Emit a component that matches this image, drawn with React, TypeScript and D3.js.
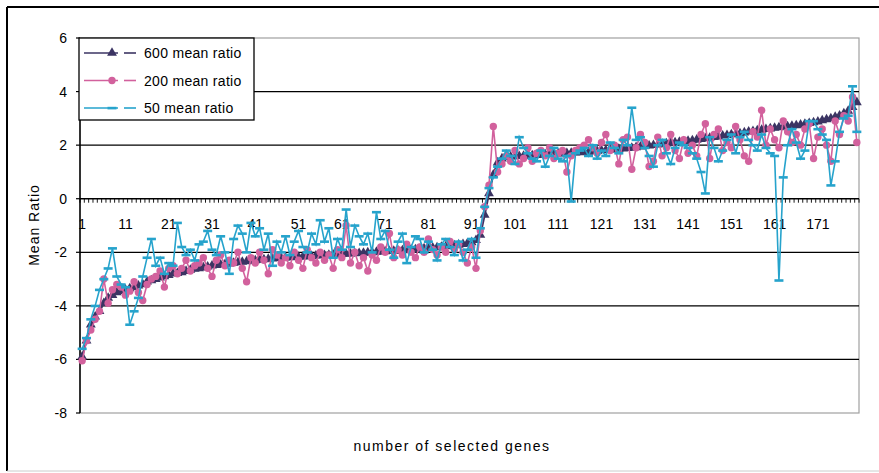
import React from "react";
import * as d3 from "d3";

const yTicks = [-8, -6, -4, -2, 0, 2, 4, 6];
const xLabelEvery = 10;

const seriesNames = ["600 mean ratio", "200 mean ratio", "50 mean ratio"];

const ratio600 = [
  -5.9, -5.3, -4.7, -4.4, -4.2, -3.9, -3.7, -3.6, -3.5, -3.45,
  -3.4, -3.35, -3.3, -3.25, -3.2, -3.1, -3.05, -3.0, -2.95, -2.9,
  -2.85, -2.8, -2.78, -2.75, -2.7, -2.66, -2.62, -2.6, -2.57, -2.54,
  -2.5, -2.48, -2.46, -2.44, -2.42, -2.4, -2.38, -2.36, -2.34, -2.32,
  -2.3, -2.28, -2.27, -2.25, -2.24, -2.22, -2.21, -2.2, -2.19, -2.18,
  -2.17, -2.16, -2.15, -2.14, -2.13, -2.12, -2.11, -2.1, -2.09, -2.08,
  -2.07, -2.06, -2.05, -2.04, -2.03, -2.02, -2.01, -2.0, -1.99, -1.98,
  -1.97, -1.96, -1.95, -1.94, -1.93, -1.92, -1.9, -1.89, -1.88, -1.86,
  -1.85, -1.83, -1.82, -1.8, -1.78, -1.76, -1.74, -1.72, -1.7, -1.67,
  -1.63, -1.55, -1.35, -0.6, 0.2, 0.9, 1.35, 1.5, 1.55, 1.57,
  1.58, 1.59, 1.6, 1.61, 1.62, 1.63, 1.64, 1.65, 1.66, 1.67,
  1.68, 1.69, 1.7, 1.71, 1.72, 1.73, 1.74, 1.75, 1.77, 1.78,
  1.8, 1.81, 1.83, 1.84, 1.86, 1.87, 1.89, 1.9, 1.92, 1.94,
  1.96, 1.98, 2.0, 2.02, 2.04, 2.06, 2.08, 2.1, 2.12, 2.14,
  2.16, 2.18, 2.2, 2.22, 2.25, 2.27, 2.3, 2.32, 2.35, 2.37,
  2.4, 2.42, 2.44, 2.47, 2.5, 2.52, 2.55, 2.57, 2.6, 2.62,
  2.64, 2.66, 2.68, 2.7, 2.72, 2.74, 2.76, 2.79, 2.82, 2.85,
  2.88, 2.92, 2.96, 3.0, 3.05, 3.1, 3.18, 3.28, 3.42, 3.6,
];

const ratio200 = [
  -6.05, -5.3, -4.9, -4.5, -4.2, -3.0, -3.9, -3.4, -3.2, -3.3,
  -3.6, -3.45, -3.1, -3.5, -3.8, -3.2, -3.0, -2.9, -2.7, -3.3,
  -2.6, -2.5, -2.8, -2.6, -2.3, -2.7, -2.5, -2.4, -2.2, -2.6,
  -2.9, -2.3, -2.1, -2.5, -2.3, -2.4, -2.0, -2.6, -3.1, -2.2,
  -2.4, -2.0, -2.3, -2.8, -1.9, -2.1, -2.4, -2.2, -2.5, -2.0,
  -2.3, -2.6, -1.9, -2.2, -2.4, -2.0, -2.3, -2.1, -2.6, -1.9,
  -2.2, -1.0, -2.4, -2.0, -2.5, -2.2, -2.7, -2.1, -2.3, -1.8,
  -2.0, -1.3, -2.2, -1.9, -2.1, -1.7, -2.0, -2.2, -1.8, -2.0,
  -1.5, -1.9, -2.1, -1.8, -2.0, -1.6, -1.9, -1.7, -2.0, -2.4,
  -1.8, -2.6, -1.2, -0.3, 0.5, 2.7, 1.0, 1.3, 1.6, 1.4,
  1.8, 1.3, 1.5, 1.9, 1.4, 1.7, 1.8, 1.6, 1.9, 1.5,
  1.7, 1.8, 1.0, 1.6, 1.8, 1.9, 2.0, 2.2, 1.9, 1.7,
  2.1, 2.4, 1.8, 2.0, 1.3, 2.2, 2.3, 1.1, 1.9, 2.4,
  2.1, 1.2, 1.4, 2.3, 1.6, 1.9, 2.4, 1.8, 1.5, 2.2,
  1.7, 2.0, 1.6, 2.4, 2.8, 1.5, 2.4, 2.6, 1.8, 2.1,
  1.9, 2.7, 2.2, 1.6, 1.4, 2.5, 2.3, 3.3, 2.0, 2.6,
  2.2, 1.9, 2.9, 2.5, 2.1, 2.4, 2.0, 2.6, 2.8, 1.5,
  2.3, 2.6, 2.0, 1.4, 2.9, 2.4, 3.1, 2.9, 3.8, 2.1,
];

const ratio50 = [
  -5.6, -5.2, -4.5, -4.0, -3.4, -3.0, -2.6, -1.85, -2.9, -3.2,
  -3.3, -4.7, -4.2, -3.7, -2.9, -2.2, -1.5, -2.5, -2.2, -2.8,
  -2.4, -2.5, -0.9, -1.8, -2.1, -1.9, -2.3, -1.7, -1.6, -1.2,
  -1.9, -2.1, -1.4, -2.0, -2.8, -1.5, -1.0, -1.3, -2.0, -0.9,
  -1.4, -1.1, -1.9, -1.3, -2.5, -1.6, -2.0, -1.4, -2.1, -1.6,
  -1.2, -1.8, -2.0, -1.3, -1.7, -0.8, -1.6, -1.1, -2.2, -1.5,
  -1.9, -0.4, -1.8, -1.0, -1.4, -1.7, -1.3, -2.0, -0.5, -1.5,
  -1.2, -1.9, -2.2, -1.6, -1.3, -2.4, -1.8, -1.4, -1.5, -2.0,
  -1.6, -1.9, -2.3, -1.7, -1.5, -1.8, -2.1, -1.6, -2.3, -1.9,
  -1.5, -2.2, -1.1, -0.3, 0.4, 0.8, 1.2, 1.5, 1.8, 1.6,
  1.3, 2.3, 1.9, 1.7, 1.5, 1.4, 1.8, 1.2, 1.6, 1.9,
  1.5, 1.4, 1.6, -0.1, 1.7, 1.8, 1.9, 1.6, 2.0, 1.5,
  1.8, 1.6, 2.1, 1.9, 1.7, 2.2, 2.0, 3.4, 2.2, 2.3,
  1.9, 1.6, 1.2, 2.0, 2.2, 1.7, 1.3, 1.9, 2.1, 2.0,
  1.9, 1.7, 1.5, 1.0, 0.2, 2.3, 1.9, 1.4, 1.8, 2.2,
  2.4, 1.7, 2.3, 2.5, 2.2, 2.0, 1.8, 2.4, 1.9, 1.7,
  1.6, -3.05, 0.8, 2.0, 2.6, 2.1, 1.5, 1.8, 2.9, 2.9,
  2.6, 2.4, 2.2, 0.5, 1.4, 2.5, 3.0, 3.1, 4.2, 2.5,
];

const categories = ratio600.map((_, i) => i + 1);

const colors = ["#3b3463", "#d2619d", "#26a3cc"];
const FONT = "'Liberation Sans', Arial, sans-serif";

export default function App() {
  const W = 879, H = 473;
  const left = 80, right = 859, top = 38, bottom = 413;

  const x = d3.scaleBand<number>().domain(categories).range([left, right]).paddingInner(0).paddingOuter(0);
  const y = d3.scaleLinear().domain([-8, 6]).range([bottom, top]);
  const cx = (c: number) => (x(c) as number) + x.bandwidth() / 2;

  const line = d3.line<number>().x((_, i) => cx(categories[i])).y((v) => y(v));
  const all = [ratio600, ratio200, ratio50];

  const tri = d3.symbol().type(d3.symbolTriangle).size(42)();

  const marker = (s: number, px: number, py: number, key: string | number) => {
    if (s === 0) return <path key={key} d={tri as string} transform={`translate(${px},${py})`} fill={colors[0]} />;
    if (s === 1) return <circle key={key} cx={px} cy={py} r={3.7} fill={colors[1]} />;
    return <rect key={key} x={px - 4.5} y={py - 1.2} width={9} height={2.6} fill={colors[2]} />;
  };

  const y0 = y(0);

  return (
    <svg width={W} height={H} style={{ position: "absolute", left: 0, top: 0, background: "#fff" }}>
      {/* outer frame */}
      <line x1={7} y1={7} x2={W} y2={7} stroke="#000" strokeWidth={2} />
      <line x1={7} y1={7} x2={7} y2={471} stroke="#000" strokeWidth={2} />
      <line x1={7} y1={471} x2={W} y2={471} stroke="#ccc" strokeWidth={1} />

      {/* plot area border */}
      <rect x={left} y={top} width={right - left} height={bottom - top} fill="none" stroke="#a0a0a0" strokeWidth={1.2} />

      {/* gridlines */}
      {yTicks.filter((t) => t !== -8 && t !== 6 && t !== 0).map((t) => (
        <line key={t} x1={left} x2={right} y1={y(t)} y2={y(t)} stroke="#000" strokeWidth={1.3} />
      ))}

      {/* y axis */}
      <line x1={left} x2={left} y1={top} y2={bottom} stroke="#000" strokeWidth={1.5} />
      {yTicks.map((t) => (
        <g key={t}>
          <line x1={left - 4} x2={left} y1={y(t)} y2={y(t)} stroke="#000" strokeWidth={1.2} />
          <text x={67} y={y(t) + 5} textAnchor="end" fontFamily={FONT} fontSize={14} fill="#000">{t}</text>
        </g>
      ))}

      {/* x axis at 0 */}
      <line x1={left} x2={right} y1={y0} y2={y0} stroke="#000" strokeWidth={1.6} />
      {categories.map((c) => (
        <line key={c} x1={x(c) as number} x2={x(c) as number} y1={y0} y2={y0 + 4} stroke="#000" strokeWidth={0.9} />
      ))}
      <line x1={right} x2={right} y1={y0} y2={y0 + 4} stroke="#000" strokeWidth={0.9} />
      {categories.filter((c) => (c - 1) % xLabelEvery === 0).map((c) => (
        <text key={c} x={cx(c)} y={y0 + 30} textAnchor="middle" fontFamily={FONT} fontSize={14} fill="#000">{c}</text>
      ))}

      {/* series */}
      {all.map((data, s) => (
        <g key={s}>
          <path d={line(data) as string} fill="none" stroke={colors[s]} strokeWidth={s === 0 ? 2.2 : 1.6} />
          {data.map((v, i) => marker(s, cx(categories[i]), y(v), i))}
        </g>
      ))}

      {/* legend */}
      <rect x={79} y={38} width={175} height={82} fill="#fff" stroke="#000" strokeWidth={1.3} />
      {seriesNames.map((n, s) => {
        const ly = 53 + s * 27.5;
        return (
          <g key={n}>
            <line x1={84} x2={118} y1={ly} y2={ly} stroke={colors[s]} strokeWidth={1.6} />
            <line x1={124} x2={136} y1={ly} y2={ly} stroke={colors[s]} strokeWidth={1.6} />
            {marker(s, 112, ly, "m" + s)}
            <text x={144} y={ly + 5} fontFamily={FONT} fontSize={14} letterSpacing={0.3} fill="#000">{n}</text>
          </g>
        );
      })}

      {/* axis titles */}
      <text transform="translate(39,225) rotate(-90)" textAnchor="middle" fontFamily={FONT} fontSize={14} letterSpacing={1} fill="#000">Mean Ratio</text>
      <text x={452} y={451} textAnchor="middle" fontFamily={FONT} fontSize={14} letterSpacing={1.5} fill="#000">number of selected genes</text>
    </svg>
  );
}
